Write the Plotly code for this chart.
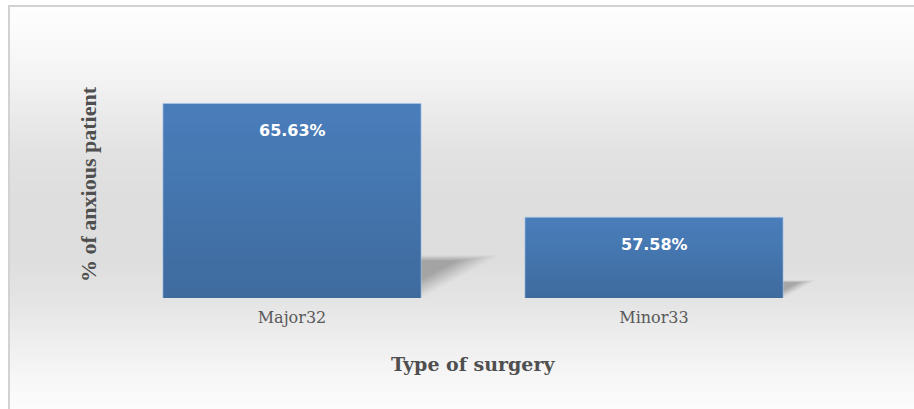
import plotly.graph_objects as go

# ---- data ----
categories = ["Major32", "Minor33"]
values = [65.63, 57.58]
value_labels = ["65.63%", "57.58%"]
x_title = "Type of surgery"
y_title = "% of anxious patient"

# ---- layout geometry (pixels) ----
W, H = 914, 409
L, R, T, B = 111, 79, 70, 111
PW, PH = W - L - R, H - T - B
Y_MIN, Y_MAX = 51.86, 68.0
BAR_W = 0.713

def px_x(px):
    return (px - L) / PW

def px_y(py):
    return (H - B - py) / PH

xs = list(range(len(categories)))

shapes = []

# background vertical gradient (white -> grey -> white)
stops = [(6, 253), (40, 250), (80, 243), (120, 233), (160, 225), (200, 222),
         (260, 222), (300, 228), (340, 238), (380, 247), (409, 252)]

def grey_at(py):
    for (a, ga), (b, gb) in zip(stops[:-1], stops[1:]):
        if a <= py <= b:
            t = (py - a) / (b - a)
            return ga + (gb - ga) * t
    return stops[-1][1]

step = 3
py = 6
while py < H:
    g = int(round(grey_at(py + step / 2)))
    shapes.append(dict(type="rect", xref="paper", yref="paper", layer="below",
                       x0=px_x(9), x1=px_x(W + 5), y0=px_y(py), y1=px_y(py + step + 0.5),
                       fillcolor=f"rgb({g},{g},{g})", line=dict(width=0)))
    py += step

# outer frame
shapes.append(dict(type="rect", xref="paper", yref="paper", layer="below",
                   x0=px_x(9), x1=px_x(W + 5), y0=px_y(H + 5), y1=px_y(6),
                   fillcolor="rgba(0,0,0,0)", line=dict(color="#d2d2d2", width=2)))

# bar drop shadows (projected behind each bar, softened with stacked layers)
ppu_y = PH / (Y_MAX - Y_MIN)
for i, v in zip(xs, values):
    h = v - Y_MIN
    nl = 10
    for k in range(nl):
        s = 1.0 - 0.06 * k
        op = 0.035 + 0.004 * k
        dx = 0.40 * h * ppu_y / PW * 2 * s
        dy = 0.22 * h * s
        x0 = i - BAR_W / 2
        x1 = i + BAR_W / 2
        base = Y_MIN + 0.01 * h * k
        path = (f"M {x0},{base} L {x1},{base} L {x1 + dx},{base + dy} "
                f"L {x0 + dx},{base + dy} Z")
        shapes.append(dict(type="path", xref="x", yref="y", layer="below",
                           path=path, fillcolor="#5a5a5a", opacity=op,
                           line=dict(width=0)))

# bar vertical gradient overlay (darker towards the bottom)
n = 20
for i, v in zip(xs, values):
    h = v - Y_MIN
    for k in range(n):
        a = 0.15 * (n - k - 0.5) / n
        shapes.append(dict(type="rect", xref="x", yref="y", layer="above",
                           x0=i - BAR_W / 2, x1=i + BAR_W / 2,
                           y0=Y_MIN + h * k / n, y1=Y_MIN + h * (k + 1) / n,
                           fillcolor=f"rgba(0,0,0,{a:.3f})", line=dict(width=0)))

fig = go.Figure()
fig.add_trace(go.Bar(
    x=xs, y=values, width=BAR_W,
    marker=dict(color="#4a7ebb", line=dict(color="rgba(170,200,235,0.7)", width=1)),
    hoverinfo="skip",
))

annotations = []
for i, v, t in zip(xs, values, value_labels):
    annotations.append(dict(x=i, y=v, xref="x", yref="y", text=t, showarrow=False,
                            yanchor="top", yshift=-16,
                            font=dict(family="DejaVu Sans", size=16, color="white",
                                      weight="bold")))

annotations.append(dict(x=0.5, y=px_y(364), xref="paper", yref="paper",
                        text=x_title, showarrow=False, xanchor="center", yanchor="middle",
                        font=dict(family="DejaVu Serif", size=19, color="#4f4f4f",
                                  weight="bold")))
annotations.append(dict(x=px_x(88), y=px_y(184), xref="paper", yref="paper",
                        text=y_title, showarrow=False, textangle=-90,
                        xanchor="center", yanchor="middle",
                        font=dict(family="Liberation Serif", size=22, color="#4f4f4f",
                                  weight="bold")))

fig.update_layout(
    width=W, height=H,
    margin=dict(l=L, r=R, t=T, b=B, pad=0),
    paper_bgcolor="white",
    plot_bgcolor="rgba(0,0,0,0)",
    showlegend=False,
    hovermode=False,
    shapes=shapes,
    annotations=annotations,
    xaxis=dict(range=[-0.5, len(categories) - 0.5], tickvals=xs, ticktext=categories,
               showgrid=False, zeroline=False, showline=False, ticks="",
               ticklabelstandoff=8, fixedrange=True,
               tickfont=dict(family="DejaVu Serif", size=16, color="#595959")),
    yaxis=dict(range=[Y_MIN, Y_MAX], showgrid=False, zeroline=False, showline=False,
               showticklabels=False, ticks="", fixedrange=True),
)

fig.write_html("out.html", config={"displayModeBar": False, "staticPlot": True},
               post_script="document.body.style.margin='0';")
